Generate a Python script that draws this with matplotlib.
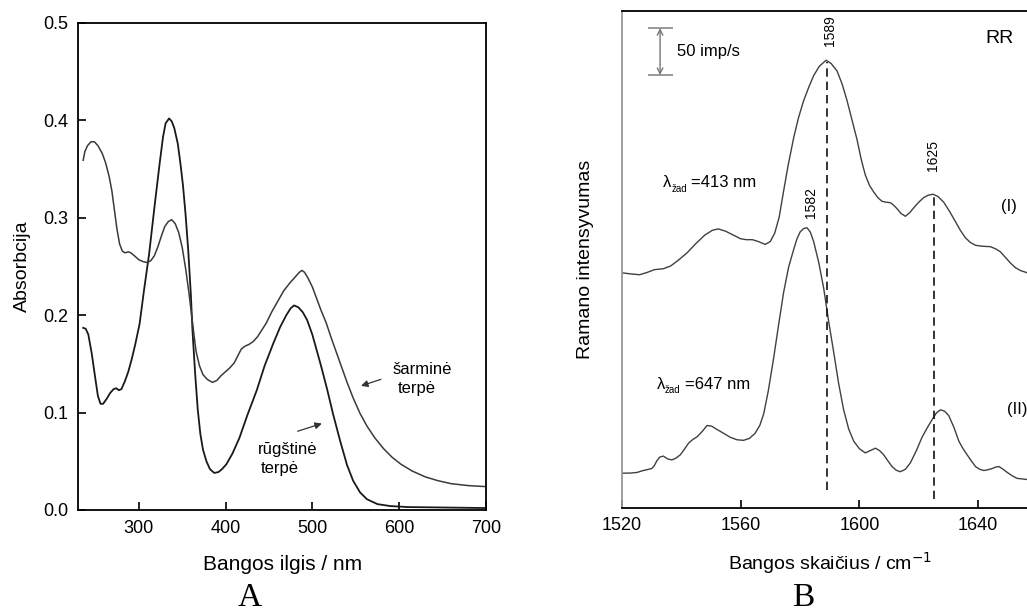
import matplotlib
matplotlib.use("Agg")
import matplotlib.pyplot as plt
import numpy as np

plt.rcParams['font.family'] = ['Liberation Sans', 'DejaVu Sans']

# --- Panel A: absorption spectra ---
acid_nm = [236, 239, 242, 246, 250, 253, 256, 259, 263, 267, 271, 274, 277, 280, 284,
           288, 292, 296, 301, 306, 312, 318, 324, 328, 331, 335, 338, 341, 345, 348,
           351, 354, 357, 360, 362, 365, 368, 371, 374, 378, 382, 387, 392, 396, 401,
           408, 416, 425, 436, 445, 455, 463, 470, 475, 479, 484, 489, 494, 500, 505,
           510, 517, 524, 532, 540, 547, 555, 563, 575, 590, 610, 700]
acid_abs = [0.187, 0.186, 0.180, 0.160, 0.135, 0.117, 0.109, 0.109, 0.114, 0.120, 0.124,
            0.125, 0.123, 0.124, 0.132, 0.142, 0.155, 0.170, 0.191, 0.225, 0.263, 0.310,
            0.355, 0.383, 0.397, 0.402, 0.399, 0.392, 0.376, 0.356, 0.333, 0.303, 0.267,
            0.222, 0.183, 0.140, 0.103, 0.078, 0.062, 0.050, 0.042, 0.038, 0.039, 0.042,
            0.047, 0.058, 0.074, 0.097, 0.123, 0.148, 0.171, 0.188, 0.200, 0.207, 0.210,
            0.208, 0.203, 0.195, 0.180, 0.164, 0.148, 0.124, 0.098, 0.071, 0.046, 0.030,
            0.018, 0.011, 0.006, 0.004, 0.003, 0.002]

alk_nm = [236, 238, 241, 245, 249, 253, 258, 262, 266, 269, 272, 275, 278, 281, 284,
          288, 291, 295, 300, 305, 310, 314, 318, 322, 326, 330, 334, 338, 342, 346,
          350, 354, 358, 362, 366, 370, 374, 379, 385, 390, 395, 400, 405, 410, 414,
          418, 422, 427, 432, 437, 442, 447, 453, 460, 467, 474, 480, 485, 488, 491,
          495, 500, 505, 510, 516, 522, 528, 534, 540, 547, 555, 563, 572, 582, 592,
          602, 615, 630, 645, 660, 680, 700]
alk_abs = [0.359, 0.368, 0.374, 0.378, 0.378, 0.374, 0.366, 0.356, 0.342, 0.328, 0.308,
           0.288, 0.273, 0.266, 0.264, 0.265, 0.264, 0.261, 0.257, 0.255, 0.254, 0.256,
           0.261, 0.270, 0.281, 0.291, 0.296, 0.298, 0.294, 0.285, 0.270, 0.248, 0.222,
           0.192, 0.163, 0.148, 0.139, 0.134, 0.131, 0.133, 0.138, 0.142, 0.146, 0.151,
           0.158, 0.165, 0.168, 0.170, 0.173, 0.178, 0.185, 0.192, 0.203, 0.214, 0.225,
           0.233, 0.239, 0.244, 0.246, 0.244, 0.238, 0.229, 0.217, 0.205, 0.192, 0.176,
           0.161, 0.146, 0.131, 0.115, 0.099, 0.086, 0.074, 0.063, 0.054, 0.047, 0.040,
           0.034, 0.030, 0.027, 0.025, 0.024]

# --- Panel B: resonance Raman spectra (imp/s) ---
wn_I = [1520, 1523, 1526, 1528.5, 1531, 1534, 1536.5, 1539, 1542, 1545, 1548, 1550.5,
        1552.5, 1555, 1557.5, 1560, 1562, 1564, 1566, 1568.3, 1570, 1571.5, 1573, 1574.5,
        1576, 1577.9, 1579.5, 1581.2, 1583, 1584.6, 1586.5, 1588.8, 1590.5, 1592.5,
        1594.2, 1595.8, 1597.5, 1599.2, 1600.6, 1602, 1603.4, 1604.8, 1606.2, 1607.6,
        1609, 1610.4, 1611.5, 1612.7, 1614, 1615.5, 1617, 1618.3, 1620, 1621.7, 1623.2,
        1624.8, 1626.5, 1628.4, 1630.4, 1632.4, 1634, 1635.7, 1637.4, 1639.1, 1641.5,
        1644.2, 1646, 1647.5, 1649.2, 1650.9, 1652.6, 1654.3, 1656.5, 1660]
int_I = [250.7, 249.5, 248.6, 251, 254, 255, 258, 264, 272, 282, 291, 296,
         297.5, 295, 291, 287, 286, 286, 284, 281, 284, 293, 310, 338,
         365, 395, 416, 434, 449, 461, 471, 477.5, 474, 466,
         452, 435, 414, 393, 372, 355, 344, 337, 331, 327,
         326, 325.5, 323, 319, 314, 311, 315, 320, 326, 331, 333.5,
         334.5, 332, 326, 316, 305, 296, 288, 283, 280, 279,
         278.5, 276, 273, 267, 261, 256, 253, 250.7, 249]

wn_II = [1520, 1523, 1525.1, 1527, 1528.4, 1530.1, 1531, 1531.8, 1532.8, 1534, 1535.5,
         1536.9, 1538.3, 1539.7, 1541, 1542.5, 1544, 1545.3, 1547, 1548.7, 1550.3, 1552,
         1554, 1556.5, 1558.8, 1561, 1563, 1564.9, 1566.5, 1567.8, 1569.3, 1571.1, 1572.8,
         1574.5, 1576.2, 1577.9, 1579, 1580.1, 1581.3, 1582.4, 1583.5, 1584.6, 1586.3,
         1588, 1589.6, 1591.3, 1593, 1594.7, 1596.4, 1598.1, 1600, 1602, 1603.7, 1605.4,
         1606.8, 1608.2, 1609.6, 1611, 1612.4, 1613.8, 1615.5, 1617.2, 1619.2, 1621.1,
         1622.8, 1624.5, 1625.9, 1627.3, 1628.7, 1630.1, 1631.8, 1633.5, 1634.9, 1636.3,
         1637.7, 1639.1, 1640.5, 1641.9, 1643.3, 1644.7, 1646, 1647, 1648.4, 1649.8,
         1651.5, 1653.1, 1656.5, 1660]
int_II = [36.8, 37, 37.6, 39.5, 40.5, 41.8, 45, 50, 54, 55.1, 52,
          51, 53, 56.4, 62, 68.9, 73, 75.5, 81, 87.7, 87, 83.6,
          80, 75.2, 72.5, 71.9, 74, 79.4, 88, 100.3, 124, 158.8, 195,
          229.8, 257, 275.7, 287, 294.5, 298, 298.7, 294, 284.1, 262,
          234, 200, 167.1, 133, 104.5, 84, 71, 63, 58.5, 61, 63.5,
          61, 56.4, 50, 43.9, 40, 38.4, 41, 48, 61, 75.2,
          85, 94, 101, 104.5, 103, 98.2, 86, 71, 63, 56.4,
          50, 43.9, 41, 39.7, 40.5, 41.8, 43.5, 43.9, 41, 37.6,
          34, 31.3, 30.1, 30]

peak_pos = [1589, 1625]
peak_top = [476, 334]
peak_bottom = [19, 9]

fig = plt.figure(figsize=(10.27, 6.12), dpi=100)

# ---------------- A ----------------
axA = fig.add_axes([0.0759, 0.1667, 0.3973, 0.7958])
axA.plot(acid_nm, acid_abs, color="#1a1a1a", linewidth=1.3)
axA.plot(alk_nm, alk_abs, color="#3a3a3a", linewidth=1.1)
axA.set_xlim(230, 700)
axA.set_ylim(0, 0.5)
axA.set_xticks([300, 400, 500, 600, 700])
axA.set_yticks([0.0, 0.1, 0.2, 0.3, 0.4, 0.5])
axA.set_yticklabels(["0.0", "0.1", "0.2", "0.3", "0.4", "0.5"])
axA.tick_params(direction="in", length=6, width=1.2, labelsize=13, pad=7)
for s in axA.spines.values():
    s.set_linewidth(1.3)
axA.set_xlabel("Bangos ilgis / nm", fontsize=15, va="center")
axA.xaxis.set_label_coords(0.502, -0.111)
axA.set_ylabel("Absorbcija", fontsize=14, va="center")
axA.yaxis.set_label_coords(-0.137, 0.5)

axA.text(592, 0.1446, "šarminė", fontsize=12, va="center", ha="left")
axA.text(598, 0.1245, "terpė", fontsize=12, va="center", ha="left")
axA.annotate("", xy=(553, 0.1265), xytext=(582, 0.135),
             arrowprops=dict(arrowstyle="-|>", color="#333333", lw=0.9,
                             mutation_scale=10))
axA.text(471, 0.0622, "rūgštinė", fontsize=12, va="center", ha="center")
axA.text(463, 0.043, "terpė", fontsize=12, va="center", ha="center")
axA.annotate("", xy=(514, 0.0896), xytext=(480, 0.080),
             arrowprops=dict(arrowstyle="-|>", color="#333333", lw=0.9,
                             mutation_scale=10))

fig.text(250 / 1027, 1 - 598 / 612, "A", fontsize=24, family="Liberation Serif",
         ha="center", va="center")

# ---------------- B ----------------
axB = fig.add_axes([0.6054, 0.1704, 0.4049, 0.8116])
axB.plot(wn_I, int_I, color="#404040", linewidth=1.0)
axB.plot(wn_II, int_II, color="#404040", linewidth=1.0)
axB.vlines(peak_pos, peak_bottom, peak_top, colors="#111111", linestyles=(0, (5, 3)),
           linewidth=1.2)
axB.set_xlim(1520, 1660)
axB.set_ylim(0, 530)
axB.set_xticks([1520, 1560, 1600, 1640])
axB.set_yticks([])
axB.tick_params(direction="in", length=6, width=1.2, labelsize=13, pad=7)
axB.spines["left"].set_color("#999999")
for s in axB.spines.values():
    s.set_linewidth(1.3)
axB.set_xlabel("Bangos skaičius / cm$^{-1}$", fontsize=14, va="center")
axB.xaxis.set_label_coords(0.501, -0.111)
axB.set_ylabel("Ramano intensyvumas", fontsize=14, va="center")
axB.yaxis.set_label_coords(-0.088, 0.5)

# peak labels
axB.text(1590.2, 509, "1589", rotation=90, fontsize=10, ha="center", va="center")
axB.text(1624.8, 376, "1625", rotation=90, fontsize=10, ha="center", va="center")
axB.text(1583.7, 326, "1582", rotation=90, fontsize=10, ha="center", va="center")

# scale bar
axB.hlines([461.7, 511.8], 1528.7, 1537.2, colors="#888888", linewidth=1.2)
axB.annotate("", xy=(1532.9, 461.7), xytext=(1532.9, 511.8),
             arrowprops=dict(arrowstyle="<->", color="#777777", lw=1.0,
                             mutation_scale=10, shrinkA=0, shrinkB=0))
axB.text(1538.5, 486.7, "50 imp/s", fontsize=12, va="center", ha="left")

axB.text(1647.3, 501, "RR", fontsize=14, va="center", ha="center")
axB.text(1650.3, 321.7, "(I)", fontsize=12, va="center", ha="center")
axB.text(1653.0, 104.5, "(II)", fontsize=12, va="center", ha="center")

# excitation wavelength labels
axB.text(1534.0, 346.8, "λ", fontsize=12, va="center", ha="left")
axB.text(1536.7, 340.5, "žad", fontsize=7, va="center", ha="left")
axB.text(1543.4, 346.8, "=413 nm", fontsize=12, va="center", ha="left")
axB.text(1531.8, 131.6, "λ", fontsize=12, va="center", ha="left")
axB.text(1534.5, 125.3, "žad", fontsize=7, va="center", ha="left")
axB.text(1541.2, 131.6, "=647 nm", fontsize=12, va="center", ha="left")

fig.text(803 / 1027, 1 - 598 / 612, "B", fontsize=24, family="Liberation Serif",
         ha="center", va="center")

fig.savefig("out.png", dpi=100)
